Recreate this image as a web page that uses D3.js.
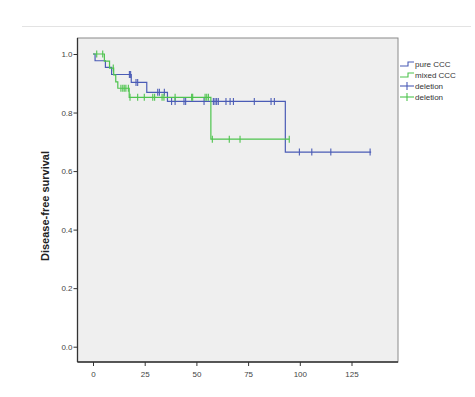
<!DOCTYPE html>
<html><head><meta charset="utf-8">
<script src="https://cdn.jsdelivr.net/npm/d3@7"></script>
<style>body{margin:0;background:#fff;}svg{display:block;font-family:Arial,"Liberation Sans",sans-serif;}</style>
</head><body>
<svg id="c" width="475" height="397"></svg>
<script>
// ---- data ----
const blueTimes = [0, 1, 6, 9, 18.5, 26, 36, 93];
const blueSurv  = [1.0, 0.977, 0.954, 0.930, 0.903, 0.869, 0.838, 0.665];
const blueEnd = 134.5;
const blueCensor = [17.6,18.2,20.8,21.6,31.3,32.1,34.5,38,39.7,44,44.8,53.7,58.2,59,59.8,60.6,64.3,66.3,67.9,78,86.1,87.7,99.8,105.8,115,134];

const greenTimes = [0, 5.5, 8, 10, 11, 12, 17.5, 57];
const greenSurv  = [1.0, 0.976, 0.952, 0.929, 0.905, 0.883, 0.852, 0.709];
const greenEnd = 95;
const greenCensor = [1.8,4.7,9.8,13.5,14.4,15.1,15.9,17.1,17.9,21.6,24.8,28.9,29.8,33.4,34.3,39.7,47.7,48.2,54.2,55,55.8,57.7,65.9,71.1,94.9];

const xTicks = [0,25,50,75,100,125];
const yTicks = [0,0.2,0.4,0.6,0.8,1.0];
const legendLabels = ["pure CCC","mixed CCC","deletion","deletion"];
const colors = {blue:"#4b5cb6", green:"#4ec44e"};

// ---- layout ----
const svg = d3.select("#c");
const box = {l:77.5, t:38, r:398, b:362};
const x = d3.scaleLinear().domain([0,125]).range([93,351.5]);
const y = d3.scaleLinear().domain([0,1]).range([346.7,54]);

svg.append("line").attr("x1",22).attr("x2",471).attr("y1",26.5).attr("y2",26.5).attr("stroke","#e3e3e3");

svg.append("rect").attr("x",box.l).attr("y",box.t).attr("width",box.r-box.l).attr("height",box.b-box.t)
  .attr("fill","#efefef").attr("stroke","#8a8a8a").attr("stroke-width",1);
svg.append("line").attr("x1",box.l).attr("x2",box.r).attr("y1",box.b).attr("y2",box.b).attr("stroke","#333").attr("stroke-width",1.3);
svg.append("line").attr("x1",box.l).attr("x2",box.l).attr("y1",box.t).attr("y2",box.b).attr("stroke","#333").attr("stroke-width",1.3);

// axes
const xa = svg.append("g").attr("transform",`translate(0,${box.b})`)
  .call(d3.axisBottom(x).tickValues(xTicks).tickSize(4).tickSizeOuter(0).tickFormat(d3.format("d")));
xa.select(".domain").remove();
xa.selectAll("line").attr("stroke","#333");
xa.selectAll("text").attr("fill","#444").attr("font-size",8).attr("dy","0.95em");

const ya = svg.append("g").attr("transform",`translate(${box.l},0)`)
  .call(d3.axisLeft(y).tickValues(yTicks).tickSize(4).tickSizeOuter(0).tickFormat(d3.format(".1f")));
ya.select(".domain").remove();
ya.selectAll("line").attr("stroke","#333");
ya.selectAll("text").attr("fill","#444").attr("font-size",8).attr("x",-5);

svg.append("text").attr("transform","translate(49,206) rotate(-90)").attr("text-anchor","middle")
  .attr("font-size",11).attr("font-weight","bold").attr("fill","#222").text("Disease-free survival");

// curves
function stepData(times, surv, end){
  const pts = times.map((t,i)=>[t,surv[i]]);
  pts.push([end, surv[surv.length-1]]);
  return pts;
}
function survAt(times, surv, t){
  let s = surv[0];
  for(let i=0;i<times.length;i++){ if(times[i]<=t) s = surv[i]; }
  return s;
}
const line = d3.line().x(d=>x(d[0])).y(d=>y(d[1])).curve(d3.curveStepAfter);
function drawSeries(times, surv, end, censor, col){
  svg.append("path").datum(stepData(times,surv,end)).attr("d",line)
    .attr("fill","none").attr("stroke",col).attr("stroke-width",1.2);
  svg.append("g").selectAll("line").data(censor).join("line")
    .attr("x1",d=>x(d)).attr("x2",d=>x(d))
    .attr("y1",d=>y(survAt(times,surv,d))-3.5).attr("y2",d=>y(survAt(times,surv,d))+3.5)
    .attr("stroke",col).attr("stroke-width",1.1);
}
drawSeries(blueTimes, blueSurv, blueEnd, blueCensor, colors.blue);
drawSeries(greenTimes, greenSurv, greenEnd, greenCensor, colors.green);

// legend
const lg = svg.append("g");
const legCols = [colors.blue, colors.green, colors.blue, colors.green];
const rowY = [64, 75, 86, 97];
legendLabels.forEach((lab,i)=>{
  const yy = rowY[i], c = legCols[i];
  if(i<2){
    lg.append("path").attr("d",`M400,${yy+2}H408V${yy-2}H414`).attr("fill","none").attr("stroke",c).attr("stroke-width",1.1);
  } else {
    lg.append("line").attr("x1",400).attr("x2",414).attr("y1",yy).attr("y2",yy).attr("stroke",c).attr("stroke-width",1.1);
    lg.append("line").attr("x1",407).attr("x2",407).attr("y1",yy-4).attr("y2",yy+4).attr("stroke",c).attr("stroke-width",1.1);
  }
  lg.append("text").attr("x",415).attr("y",yy).attr("dy","0.35em").attr("font-size",8).attr("fill","#333").text(lab);
});
</script>
</body></html>
